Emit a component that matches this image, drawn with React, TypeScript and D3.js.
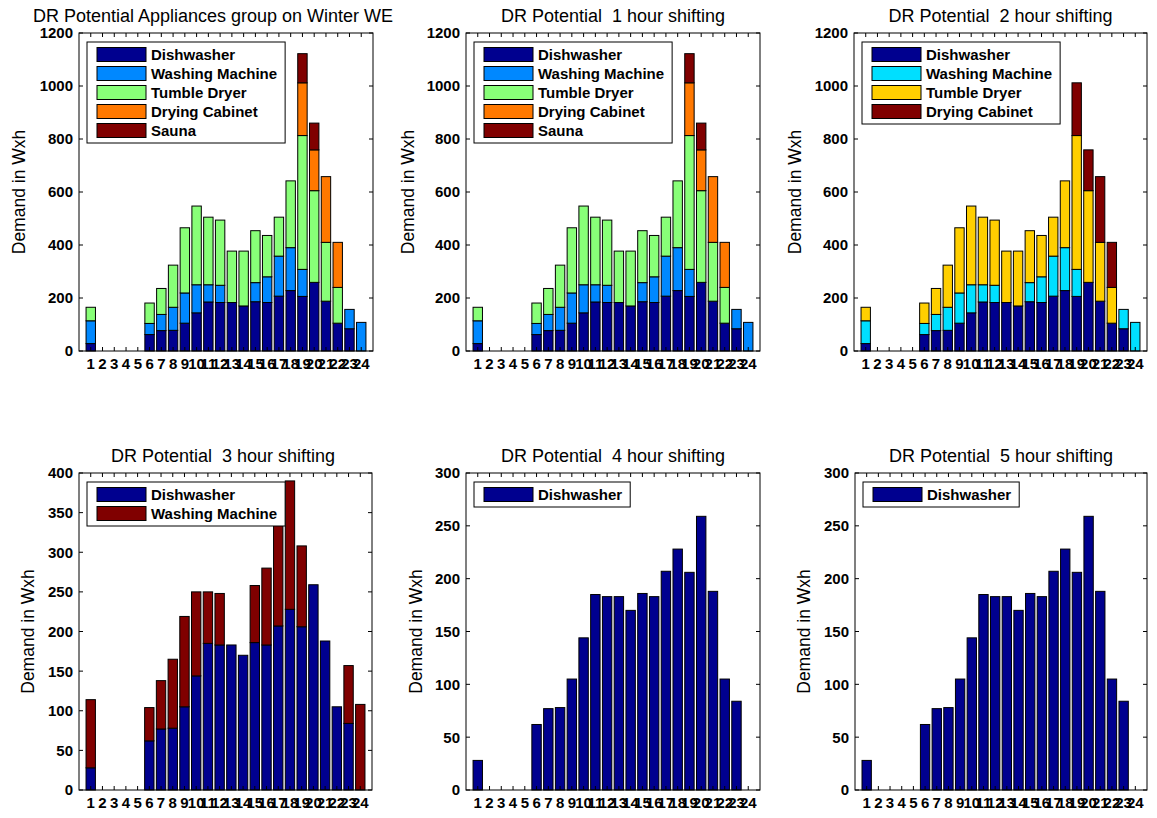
import React from 'react';
import * as d3 from 'd3';

// ---------- data ----------
const hours = [1, 2, 3, 4, 5, 6, 7, 8, 9, 10, 11, 12, 13, 14, 15, 16, 17, 18, 19, 20, 21, 22, 23, 24];

const dishwasher = [28, 0, 0, 0, 0, 62, 77, 78, 105, 144, 185, 183, 183, 170, 186, 183, 207, 228, 206, 259, 188, 105, 84, 0];
const washingMachine = [86, 0, 0, 0, 0, 42, 61, 87, 114, 106, 65, 65, 0, 0, 72, 97, 151, 162, 102, 0, 0, 0, 73, 108];
const tumbleDryer = [51, 0, 0, 0, 0, 77, 98, 159, 246, 297, 255, 246, 194, 207, 196, 156, 147, 252, 505, 346, 222, 135, 0, 0];
const dryingCabinet = [0, 0, 0, 0, 0, 0, 0, 0, 0, 0, 0, 0, 0, 0, 0, 0, 0, 0, 199, 154, 248, 170, 0, 0];
const sauna = [0, 0, 0, 0, 0, 0, 0, 0, 0, 0, 0, 0, 0, 0, 0, 0, 0, 0, 110, 101, 0, 0, 0, 0];

const seriesNames = ['Dishwasher', 'Washing Machine', 'Tumble Dryer', 'Drying Cabinet', 'Sauna'];
const seriesValues = [dishwasher, washingMachine, tumbleDryer, dryingCabinet, sauna];

const titles = [
  'DR Potential Appliances group on Winter WE',
  'DR Potential  1 hour shifting',
  'DR Potential  2 hour shifting',
  'DR Potential  3 hour shifting',
  'DR Potential  4 hour shifting',
  'DR Potential  5 hour shifting',
];

// number of series shown in each panel
const panelSeriesCount = [5, 5, 4, 2, 1, 1];
const panelYMax = [1200, 1200, 1200, 400, 300, 300];
const panelYStep = [200, 200, 200, 50, 50, 50];

const colors5 = ['#00008F', '#0088FF', '#88FF78', '#FF7800', '#800000'];
const colors4 = ['#00008F', '#00DFFF', '#FFCF00', '#800000'];
const colors2 = ['#00008F', '#800000'];
const colors1 = ['#00008F'];
const panelColors = [colors5, colors5, colors4, colors2, colors1, colors1];

const yLabel = 'Demand in Wxh';

// ---------- layout ----------
const FONT = "'Liberation Sans', Arial, Helvetica, sans-serif";
const layout = [
  { left: 79, top: 33, bottom: 351, width: 294, titleX: 213, ylabOff: 54 },
  { left: 466, top: 33, bottom: 351, width: 294, titleX: null, ylabOff: 52 },
  { left: 854, top: 33, bottom: 351, width: 293, titleX: null, ylabOff: 53 },
  { left: 79, top: 473, bottom: 790, width: 293, titleX: 223, ylabOff: 45 },
  { left: 466, top: 473, bottom: 790, width: 294, titleX: null, ylabOff: 44 },
  { left: 855, top: 473, bottom: 790, width: 292, titleX: null, ylabOff: 45 },
];

let measureCtx: CanvasRenderingContext2D | null = null;
function textWidth(s: string, font: string): number {
  if (!measureCtx) {
    const c = document.createElement('canvas');
    measureCtx = c.getContext('2d');
  }
  if (!measureCtx) return s.length * 8;
  measureCtx.font = font;
  return measureCtx.measureText(s).width;
}

function Panel({ idx }: { idx: number }) {
  const L = layout[idx];
  const n = panelSeriesCount[idx];
  const names = seriesNames.slice(0, n);
  const vals = seriesValues.slice(0, n);
  const cols = panelColors[idx];
  const ymax = panelYMax[idx];

  const x = d3.scaleLinear().domain([0, 25]).range([L.left, L.left + L.width]);
  const y = d3.scaleLinear().domain([0, ymax]).range([L.bottom, L.top]);
  const barW = x(0.8) - x(0);

  const rows = hours.map((h, i) => {
    const r: any = { hour: h };
    names.forEach((nm, k) => (r[nm] = vals[k][i]));
    return r;
  });
  const stacked = d3.stack<any>().keys(names)(rows);

  const yTicks = d3.range(0, ymax + 1, panelYStep[idx]);
  const right = L.left + L.width;
  const tickLen = 4;

  const legFont = `bold 15px ${FONT}`;
  const maxW = d3.max(names, (s) => textWidth(s, legFont)) || 80;
  const legX = L.left + 8;
  const legY = L.top + 9;
  const legW = 64 + maxW + 8;
  const legH = n * 19 + 6;

  const titleX = L.titleX != null ? L.titleX : L.left + L.width / 2;
  const midY = (L.top + L.bottom) / 2;

  return (
    <g>
      {/* bars */}
      {stacked.map((layer, k) => (
        <g key={k}>
          {layer.map((d, i) =>
            d[1] - d[0] > 0 ? (
              <rect
                key={i}
                x={x(hours[i]) - barW / 2}
                y={y(d[1])}
                width={barW}
                height={y(d[0]) - y(d[1])}
                fill={cols[k]}
                stroke="#000"
                strokeWidth={1}
              />
            ) : null
          )}
        </g>
      ))}
      {/* frame */}
      <rect x={L.left} y={L.top} width={L.width} height={L.bottom - L.top} fill="none" stroke="#000" strokeWidth={1} />
      {/* y ticks */}
      {yTicks.map((t) => (
        <g key={'y' + t}>
          <line x1={L.left} x2={L.left + tickLen} y1={y(t)} y2={y(t)} stroke="#000" />
          <line x1={right - tickLen} x2={right} y1={y(t)} y2={y(t)} stroke="#000" />
          <text
            x={L.left - 6}
            y={y(t)}
            dy="0.36em"
            textAnchor="end"
            fontFamily={FONT}
            fontWeight="bold"
            fontSize={15}
            fill="#000"
          >
            {t}
          </text>
        </g>
      ))}
      {/* x ticks */}
      {hours.map((h) => (
        <g key={'x' + h}>
          <line x1={x(h)} x2={x(h)} y1={L.bottom} y2={L.bottom - tickLen} stroke="#000" />
          <line x1={x(h)} x2={x(h)} y1={L.top} y2={L.top + tickLen} stroke="#000" />
          <text
            x={x(h)}
            y={L.bottom + 17.5}
            textAnchor="middle"
            fontFamily={FONT}
            fontWeight="bold"
            fontSize={15}
            fill="#000"
          >
            {h}
          </text>
        </g>
      ))}
      {/* legend */}
      <rect x={legX} y={legY} width={legW} height={legH} fill="#fff" stroke="#000" strokeWidth={1} />
      {names.map((nm, k) => {
        const cy = legY + 12.5 + k * 19;
        return (
          <g key={'l' + k}>
            <rect x={legX + 10} y={cy - 7} width={49} height={14} fill={cols[k]} stroke="#000" strokeWidth={1} />
            <text
              x={legX + 64}
              y={cy}
              dy="0.36em"
              fontFamily={FONT}
              fontWeight="bold"
              fontSize={15}
              fill="#000"
            >
              {nm}
            </text>
          </g>
        );
      })}
      {/* title */}
      <text
        x={titleX}
        y={L.top - 11}
        textAnchor="middle"
        fontFamily={FONT}
        fontSize={18}
        fill="#000"
        style={{ whiteSpace: 'pre' }}
      >
        {titles[idx]}
      </text>
      {/* y label */}
      <text
        transform={`translate(${L.left - L.ylabOff},${midY}) rotate(-90)`}
        textAnchor="middle"
        fontFamily={FONT}
        fontSize={17.5}
        fill="#000"
      >
        {yLabel}
      </text>
    </g>
  );
}

export default function App() {
  return (
    <svg
      width={1157}
      height={818}
      style={{ position: 'absolute', left: 0, top: 0, background: '#fff' }}
      xmlns="http://www.w3.org/2000/svg"
    >
      <rect x={0} y={0} width={1157} height={818} fill="#fff" />
      {titles.map((_, i) => (
        <Panel key={i} idx={i} />
      ))}
    </svg>
  );
}
